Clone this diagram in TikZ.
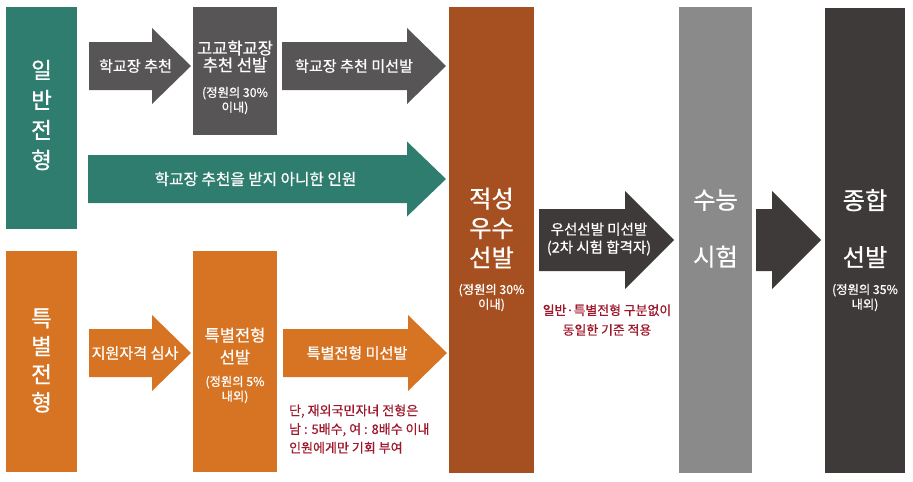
\documentclass[tikz,border=0pt]{standalone}
\usepackage{fontspec}
\setmainfont{Noto Sans CJK KR}[FakeBold=0.7]
\usetikzlibrary{calc}
\definecolor{cteal}{RGB}{46,125,110}
\definecolor{corange}{RGB}{214,116,36}
\definecolor{cdgray}{RGB}{87,85,86}
\definecolor{crust}{RGB}{166,79,32}
\definecolor{cgray}{RGB}{138,138,138}
\definecolor{cchar}{RGB}{61,58,57}
\definecolor{cnote}{RGB}{158,24,44}
\newcommand{\blockarrow}[7]{%
  \fill[#1] (#2,{#5-#6}) -- (#3,{#5-#6}) -- (#3,{#5-#7}) -- (#4,#5) --
    (#3,{#5+#7}) -- (#3,{#5+#6}) -- (#2,{#5+#6}) -- cycle;}

\begin{document}
\begin{tikzpicture}[x=0.5mm,y=-0.5mm,
  every node/.append style={inner sep=0pt,align=center,white},
  sidelabel/.style={font=\fontsize{32pt}{42pt}\selectfont},
  bigcol/.style={font=\fontsize{34.5pt}{42pt}\selectfont},
  boxlabel/.style={font=\fontsize{23.5pt}{24pt}\selectfont},
  arrowlabel/.style={font=\fontsize{21.5pt}{24pt}\selectfont},
  quota/.style={font=\fontsize{17.5pt}{21pt}\selectfont},
  note/.style={cnote,font=\fontsize{18.3pt}{27pt}\selectfont}]
\useasboundingbox (0,0) rectangle (913,481);

% =============================== columns ==============================
\fill[cteal]   (6,7)   rectangle (77,229);
\fill[corange] (6,251) rectangle (77,472);
\fill[cdgray]  (193,7) rectangle (277,135);
\fill[corange] (193,251) rectangle (277,472);
\fill[crust]   (449,7) rectangle (534,473);
\fill[cgray]   (679,7) rectangle (752,473);
\fill[cchar]   (825,8) rectangle (905,473);

% ============================ block arrows ============================
% general track
\blockarrow{cdgray}{89}{152}{191}{66}{24}{38}
\blockarrow{cdgray}{282}{407}{446}{66}{24}{38}
\blockarrow{cteal}{88}{407}{446}{179}{24}{37.5}
% special track
\blockarrow{corange}{89}{152}{191}{353}{24}{38}
\blockarrow{corange}{283}{408}{447}{353}{24}{38}
% towards the final selection
\blockarrow{cchar}{539}{625}{674}{240}{31}{49}
\blockarrow{cchar}{756}{772}{821}{240}{31}{49}

% =============================== labels ===============================
\node[sidelabel,font=\fontsize{32pt}{42.7pt}\selectfont] (general) at (41.5,115) {일\\반\\전\\형};
\node[sidelabel,font=\fontsize{32pt}{40pt}\selectfont] (special) at (41.5,360.5) {특\\별\\전\\형};

\node[arrowlabel] (recommend) at (135.5,66) {학교장 추천};
\node[boxlabel] (principal) at (235,56.5) {고교학교장\\추천 선발};
\node[quota] (quotaA) at (235,100.5) {(정원의 30\%\\이내)};
\node[arrowlabel] (notrec) at (354,66) {학교장 추천 미선발};
\node[arrowlabel,font=\fontsize{22.3pt}{24pt}\selectfont] (others) at (255.5,179) {학교장 추천을 받지 아니한 인원};

\node[arrowlabel] (check) at (135,353) {지원자격 심사};
\node[boxlabel,font=\fontsize{23.5pt}{31pt}\selectfont] (specsel) at (235,346) {특별전형\\선발};
\node[quota] (quotaB) at (235,389.5) {(정원의 5\%\\내외)};
\node[arrowlabel] (specnot) at (357,353) {특별전형 미선발};
\node[note,anchor=west,align=left,font=\fontsize{18.5pt}{26.5pt}\selectfont] (abroad) at (289,429)
  {단, 재외국민자녀 전형은\\남 : 5배수, 여 : 8배수 이내\\인원에게만 기회 부여};

\node[bigcol] (aptitude) at (491.5,228) {적성\\우수\\선발};
\node[quota] (quotaC) at (491.5,297.5) {(정원의 30\%\\이내)};

\node[arrowlabel,font=\fontsize{20.6pt}{25.6pt}\selectfont] (priority) at (599,239) {우선선발 미선발\\(2차 시험 합격자)};
\node[note,font=\fontsize{18.3pt}{28pt}\selectfont] (same) at (607,320) {일반·특별전형 구분없이\\동일한 기준 적용};

\node[bigcol,font=\fontsize{34.5pt}{81pt}\selectfont] (csat) at (715.5,228.5) {수능\\시험};
\node[bigcol,font=\fontsize{34.5pt}{81pt}\selectfont] (overall) at (865,228.5) {종합\\선발};
\node[quota] (quotaD) at (865,297.5) {(정원의 35\%\\내외)};

\end{tikzpicture}
\end{document}
